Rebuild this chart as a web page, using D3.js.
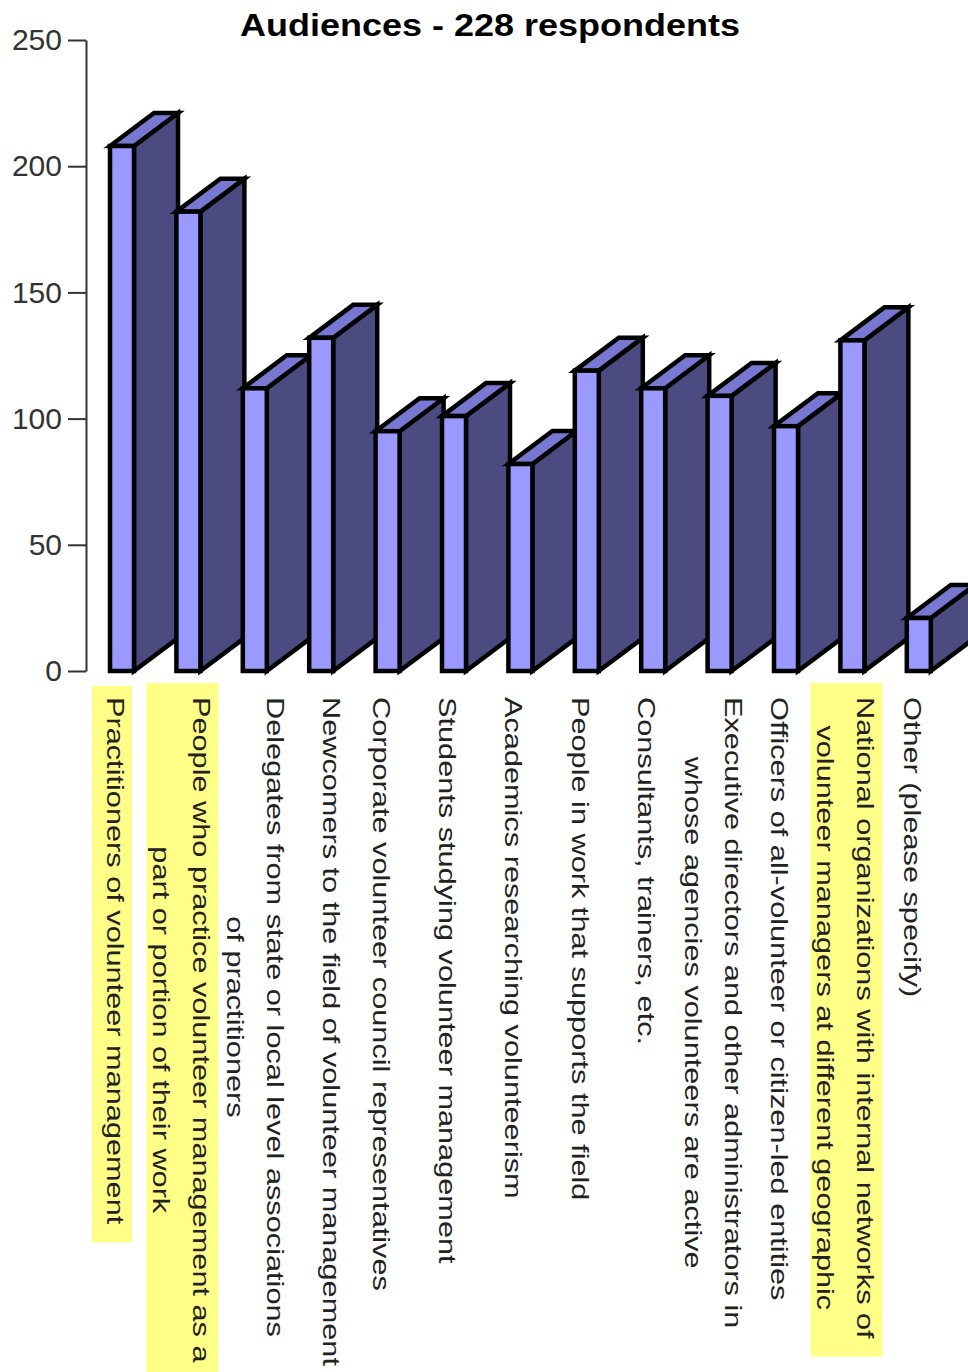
<!DOCTYPE html>
<html>
<head>
<meta charset="utf-8">
<script src="https://cdn.jsdelivr.net/npm/d3@7"></script>
<style>
body{margin:0;background:#fff;}
svg{display:block;}
</style>
</head>
<body>
<div id="content"></div>
<script>
// chart data
var title = 'Audiences - 228 respondents';
var label_lines = [
    ['Practitioners of volunteer management'],
    ['People who practice volunteer management as a', 'part or portion of their work'],
    ['Delegates from state or local level associations', 'of practitioners'],
    ['Newcomers to the field of volunteer management'],
    ['Corporate volunteer council representatives'],
    ['Students studying volunteer management'],
    ['Academics researching volunteerism'],
    ['People in work that supports the field'],
    ['Consultants, trainers, etc.'],
    ['Executive directors and other administrators in', 'whose agencies volunteers are active'],
    ['Officers of all-volunteer or citizen-led entities'],
    ['National organizations with internal networks of', 'volunteer managers at different geographic'],
    ['Other (please specify)']
];
var values = [208, 182, 112, 132, 95, 101, 82, 119, 112, 109, 97, 131, 21];
var highlighted = [0, 1, 11];
var y_ticks = [0, 50, 100, 150, 200, 250];

var W = 968, H = 1372;
var FONT = '"Liberation Sans", Arial, Helvetica, sans-serif';

function plot_bars(svg){
    var y = d3.scaleLinear().domain([0, 250]).range([671, 40]);
    var step = 66.4, front_w = 24;
    var pad = 1 - front_w / step;
    var x = d3.scaleBand()
	.domain(d3.range(values.length))
	.range([110, 110 + step * (values.length - pad)])
	.paddingInner(pad)
	.paddingOuter(0);
    var dx = 44, dy = 33;

    // y axis
    var axis = svg.append('g')
	.attr('transform', 'translate(86,0)')
	.call(d3.axisLeft(y).tickValues(y_ticks).tickSize(18).tickSizeOuter(0).tickPadding(6));
    axis.select('.domain').attr('stroke', '#333').attr('stroke-width', 2);
    axis.selectAll('.tick line').attr('stroke', '#333').attr('stroke-width', 2);
    axis.selectAll('.tick text')
	.attr('fill', '#333')
	.style('font-family', FONT)
	.style('font-size', '30px');

    // 3d bars, left to right so each front covers the previous side
    var bars = svg.append('g')
	.selectAll('g')
	.data(values)
	.enter()
	.append('g')
	.attr('stroke', '#000')
	.attr('stroke-width', 4.5)
	.attr('stroke-linejoin', 'miter');

    bars.append('path')
	.attr('fill', '#4b4b82')
	.attr('d', function(v, i){
	    var x1 = x(i) + x.bandwidth(), y0 = y(0), yt = y(v);
	    return 'M' + x1 + ',' + y0 + 'L' + (x1 + dx) + ',' + (y0 - dy) +
		'L' + (x1 + dx) + ',' + (yt - dy) + 'L' + x1 + ',' + yt + 'Z';
	});
    bars.append('path')
	.attr('fill', '#7878d2')
	.attr('d', function(v, i){
	    var x0 = x(i), x1 = x(i) + x.bandwidth(), yt = y(v);
	    return 'M' + x0 + ',' + yt + 'L' + (x0 + dx) + ',' + (yt - dy) +
		'L' + (x1 + dx) + ',' + (yt - dy) + 'L' + x1 + ',' + yt + 'Z';
	});
    bars.append('rect')
	.attr('fill', '#9999ff')
	.attr('x', function(v, i){ return x(i); })
	.attr('y', function(v){ return y(v); })
	.attr('width', x.bandwidth())
	.attr('height', function(v){ return y(0) - y(v); });

    // category labels, rotated, lines centred on each other
    var lh = 40, stretch = 1.28, top = 697;
    var nudge = {2: 7, 3: 17};   // the original pushes these two a bit right
    function first_baseline(lines, i){
	return x(i) + x.bandwidth() / 2 - 15 + (lines.length - 1) * lh / 2 + (nudge[i] || 0);
    }
    var hl_layer = svg.append('g');
    var labels = svg.append('g')
	.selectAll('g')
	.data(label_lines)
	.enter()
	.append('g')
	.attr('transform', function(lines, i){
	    return 'translate(' + first_baseline(lines, i) + ',' + top + ') scale(1,' + stretch + ') rotate(90)';
	});
    labels.each(function(lines, i){
	var g = d3.select(this);
	var texts = g.selectAll('text')
	    .data(lines)
	    .enter()
	    .append('text')
	    .attr('y', function(t, j){ return j * lh; })
	    .attr('text-anchor', 'middle')
	    .attr('fill', '#222')
	    .style('font-family', FONT)
	    .style('font-size', '24px')
	    .text(function(t){ return t; });
	var L = d3.max(texts.nodes(), function(n){ return n.getComputedTextLength(); });
	texts.attr('x', L / 2);
	if(highlighted.indexOf(i) >= 0){
	    var bx = first_baseline(lines, i);
	    var w = 40 + (lines.length - 1) * 32;
	    var top_pad = lines.length > 1 ? 14 : 11;
	    hl_layer.append('rect')
		.attr('fill', '#ffff88')
		.attr('x', bx + 25 - w)
		.attr('y', top - top_pad)
		.attr('width', w)
		.attr('height', L * stretch + top_pad + 18);
	}
    });

    // title
    svg.append('text')
	.attr('x', 240)
	.attr('y', 36)
	.attr('textLength', 500)
	.attr('lengthAdjust', 'spacingAndGlyphs')
	.attr('fill', '#000')
	.style('font-family', FONT)
	.style('font-size', '31px')
	.style('font-weight', 'bold')
	.text(title);
}

var svg = d3.select('#content')
    .append('svg')
    .attr('width', W)
    .attr('height', H);
plot_bars(svg);
</script>
</body>
</html>
